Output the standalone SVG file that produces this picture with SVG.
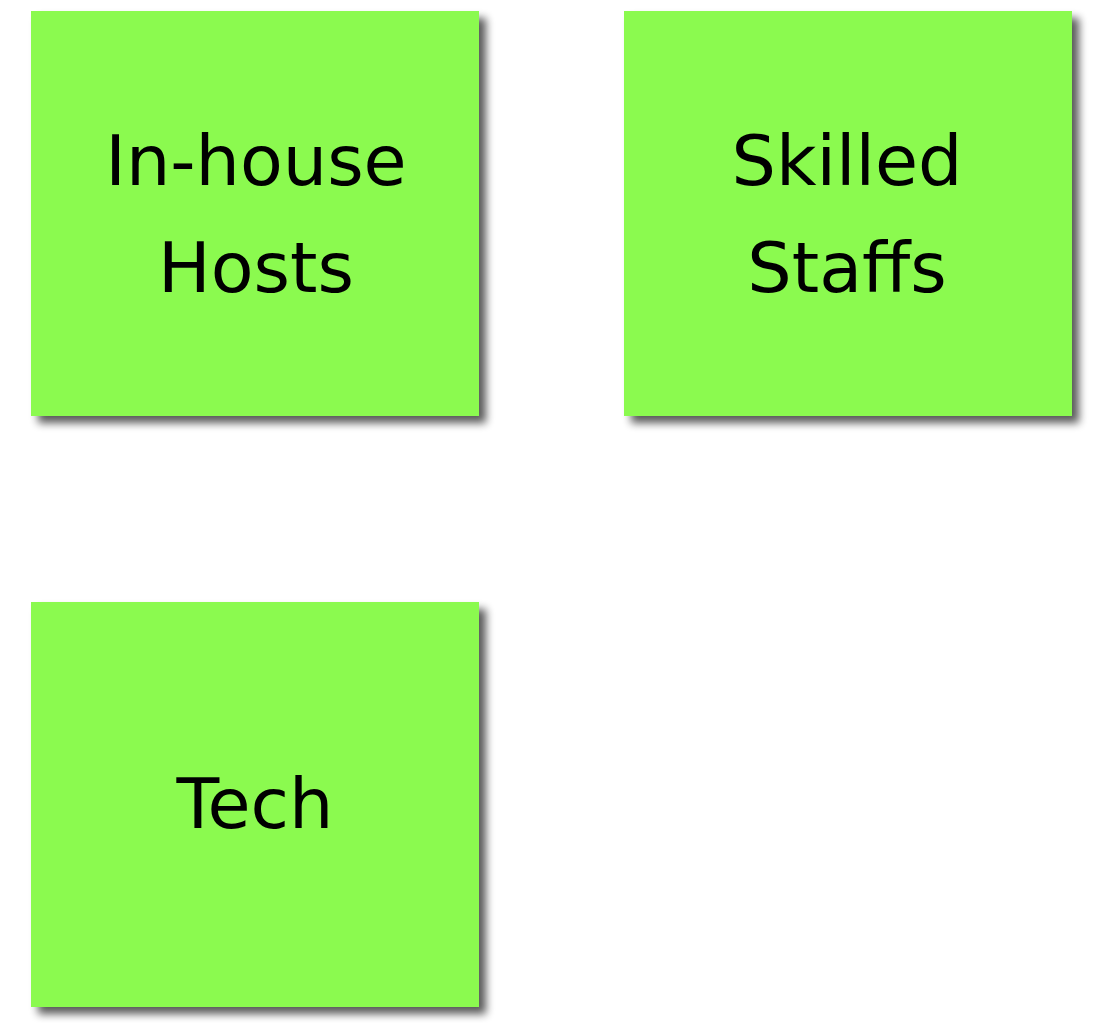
<svg xmlns="http://www.w3.org/2000/svg" width="1101" height="1023" viewBox="0 0 1101 1023">
<defs>
<filter id="sh" x="-10%" y="-10%" width="125%" height="125%">
<feGaussianBlur in="SourceAlpha" stdDeviation="4"/>
<feOffset dx="7" dy="7" result="b"/>
<feComponentTransfer><feFuncA type="linear" slope="0.65"/></feComponentTransfer>
<feMerge><feMergeNode/><feMergeNode in="SourceGraphic"/></feMerge>
</filter>
<style>
.note{fill:#8BFA50;filter:url(#sh)}
.t{font-family:"Comic Sans MS","DejaVu Sans",sans-serif;font-size:70px;fill:#000;text-anchor:middle}
</style>
</defs>
<rect width="1101" height="1023" fill="#fff"/>
<g id="connectors"/>
<g id="node-inhouse">
<rect class="note" x="31" y="11" width="448" height="405"/>
<text class="t" x="256" y="185">In-house</text>
<text class="t" x="256" y="292">Hosts</text>
</g>
<g id="node-skilled">
<rect class="note" x="624" y="11" width="448" height="405"/>
<text class="t" x="847" y="185">Skilled</text>
<text class="t" x="847" y="292">Staffs</text>
</g>
<g id="node-tech">
<rect class="note" x="31" y="602" width="448" height="405"/>
<text class="t" x="255" y="828">Tech</text>
</g>
</svg>
